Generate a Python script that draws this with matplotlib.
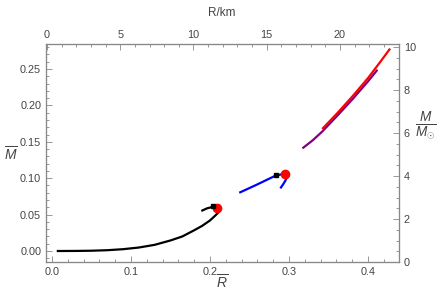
import matplotlib
matplotlib.use("Agg")
import matplotlib.pyplot as plt
from matplotlib.ticker import MultipleLocator

plt.rcParams['font.family'] = ['Liberation Sans', 'DejaVu Sans']
plt.rcParams['mathtext.fontset'] = 'custom'
plt.rcParams['mathtext.rm'] = 'Liberation Sans'
plt.rcParams['mathtext.it'] = 'Liberation Sans:italic'

# branch 1 (black), R-bar vs M-bar
black_r = [0.006, 0.03, 0.05, 0.07, 0.09, 0.11, 0.13, 0.15, 0.165, 0.18, 0.19, 0.20,
           0.207, 0.211, 0.2125, 0.211, 0.209, 0.203, 0.196, 0.189]
black_m = [0.0000, 0.0001, 0.0004, 0.0011, 0.0025, 0.0048, 0.0085, 0.0145, 0.020, 0.0285,
           0.0345, 0.042, 0.049, 0.0535, 0.0565, 0.0585, 0.0595, 0.0605, 0.0585, 0.055]
# branch 2 (blue)
blue_r = [0.237, 0.259, 0.282, 0.290, 0.295, 0.2972, 0.2975, 0.2965, 0.2948, 0.2925, 0.289]
blue_m = [0.080, 0.091, 0.103, 0.1052, 0.106, 0.1045, 0.102, 0.099, 0.0955, 0.0915, 0.086]
# branch 3 (purple)
purple_r = [0.317, 0.33, 0.342, 0.36, 0.38, 0.40, 0.412]
purple_m = [0.141, 0.152, 0.1640, 0.1845, 0.2080, 0.2330, 0.2490]
# branch 4 (red)
red_r = [0.342, 0.36, 0.38, 0.40, 0.415, 0.428]
red_m = [0.1676, 0.1880, 0.2120, 0.2375, 0.2590, 0.2780]

# markers
dots_r = [0.209, 0.295]
dots_m = [0.0595, 0.106]
squares_r = [0.204, 0.284]
squares_m = [0.062, 0.104]

frame_col = '#888888'
label_col = '#444444'

fig = plt.figure(figsize=(4.44, 3.03), dpi=100)
ax = fig.add_axes([0.1036, 0.1353, 0.795, 0.7195])

ax.plot(black_r, black_m, color='black', lw=1.6, solid_capstyle='butt')
ax.plot(blue_r, blue_m, color='blue', lw=1.6, solid_capstyle='butt')
ax.plot(purple_r, purple_m, color='#800080', lw=1.6, solid_capstyle='butt')
ax.plot(red_r, red_m, color='red', lw=1.6, solid_capstyle='butt')
ax.plot(dots_r, dots_m, 'o', color='red', ms=6, zorder=4)
ax.plot(squares_r, squares_m, 's', color='black', ms=3.5, zorder=5)

ax.set_xlim(-0.0076, 0.4392)
ax.set_ylim(-0.0151, 0.2843)
ax.xaxis.set_major_locator(MultipleLocator(0.1))
ax.xaxis.set_minor_locator(MultipleLocator(0.02))
ax.yaxis.set_major_locator(MultipleLocator(0.05))
ax.yaxis.set_minor_locator(MultipleLocator(0.01))
ax.xaxis.set_major_formatter(lambda v, p: f"{v:.1f}")
ax.yaxis.set_major_formatter(lambda v, p: f"{v:.2f}")

ax_top = ax.twiny()
ax_top.set_xlim(-0.07, 24.03)
ax_top.xaxis.set_major_locator(MultipleLocator(5))
ax_top.xaxis.set_minor_locator(MultipleLocator(1))

ax_right = ax.twinx()
ax_right.set_ylim(0, 10.15)
ax_right.yaxis.set_major_locator(MultipleLocator(2))
ax_right.yaxis.set_minor_locator(MultipleLocator(0.5))

for a in (ax, ax_top, ax_right):
    for s in a.spines.values():
        s.set_color(frame_col)
        s.set_linewidth(0.8)
    a.tick_params(which='both', direction='in', color=frame_col, labelcolor=label_col,
                  labelsize=7.8, width=0.6)
    a.tick_params(which='major', length=4)
    a.tick_params(which='minor', length=2)

ax.tick_params(top=False, right=False)
ax_top.tick_params(axis='x', pad=3)

fig.text(0.5, 0.068, r'$\overline{R}$', ha='center', va='center', fontsize=10, color=label_col)
fig.text(0.5, 0.957, 'R/km', ha='center', va='center', fontsize=8.5, color=label_col)
fig.text(0.025, 0.49, r'$\overline{M}$', ha='center', va='center', fontsize=10, color=label_col)
fig.text(0.958, 0.585, r'$\frac{M}{M_{\odot}}$', ha='center', va='center', fontsize=14,
         color=label_col)

fig.savefig("out.png", dpi=100)
